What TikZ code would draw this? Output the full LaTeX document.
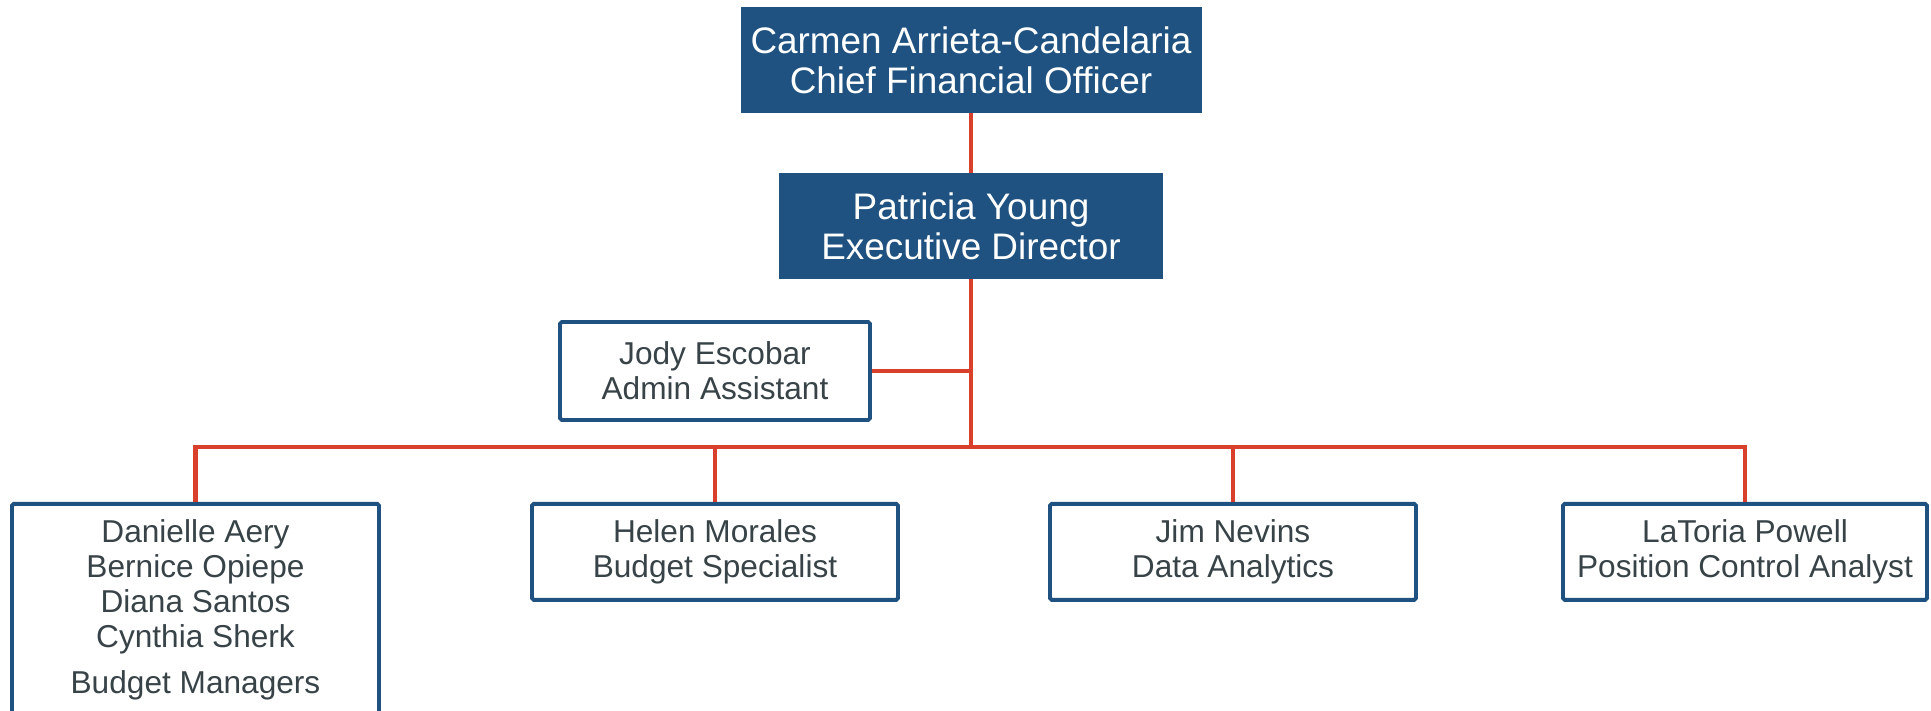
\documentclass[tikz,border=0pt]{standalone}
\usepackage{fontspec}
\setmainfont{Liberation Sans}
\usetikzlibrary{positioning}
\definecolor{orgblue}{RGB}{31,82,128}
\definecolor{orgred}{RGB}{217,64,43}
\definecolor{orggray}{RGB}{56,67,72}

\begin{document}
\begin{tikzpicture}[
		headbox/.style={fill=orgblue,text=white,align=center,inner sep=0pt,font=\fontsize{21}{22.8}\selectfont},
		staffbox/.style={draw=orgblue,line width=2.2pt,rounded corners=1pt,fill=white,text=orggray,align=center,inner xsep=0pt,inner ysep=0pt,font=\fontsize{18}{19.9}\selectfont},
		orgline/.style={orgred,line width=2.3pt}
	]
				
				\useasboundingbox (0,0) rectangle (38.62,14.2);
				
				\node[headbox,minimum width=9.22cm,minimum height=2.12cm] (cfo) at (19.42,13.0) {Carmen Arrieta-Candelaria\\Chief Financial Officer};
				\node[headbox,minimum width=7.68cm,minimum height=2.12cm] (exec) at (19.42,9.68) {Patricia Young\\Executive Director};
				\node[staffbox,minimum width=6.2cm,minimum height=1.96cm] (jody) at (14.3,6.78) {Jody Escobar\\Admin Assistant};
				
				\coordinate (bus) at (19.42,5.26);
				
				\node[staffbox,anchor=north,minimum width=7.34cm,inner ysep=0.32cm] (mgrs) at (3.91,4.16) {Danielle Aery\\Bernice Opiepe\\Diana Santos\\Cynthia Sherk\\[6pt]Budget Managers};
				\node[staffbox,anchor=north,minimum width=7.32cm,minimum height=1.92cm] (budget) at (14.3,4.16) {Helen Morales\\Budget Specialist};
				\node[staffbox,anchor=north,minimum width=7.32cm,minimum height=1.92cm] (data) at (24.66,4.16) {Jim Nevins\\Data Analytics};
				\node[staffbox,anchor=north,minimum width=7.28cm,minimum height=1.92cm] (analyst) at (34.9,4.16) {LaToria Powell\\Position Control Analyst};
				
				\draw[orgline] (cfo) -- (exec);
				\draw[orgline] (exec) -- (bus);
				\draw[orgline] (jody.east) -- (jody.east -| bus);
				\draw[orgline] (mgrs.north) |- (bus);
				\draw[orgline] (analyst.north) |- (bus);
				\draw[orgline] (budget.north) -- (budget.north |- bus);
				\draw[orgline] (data.north) -- (data.north |- bus);
				
\end{tikzpicture}
\end{document}
